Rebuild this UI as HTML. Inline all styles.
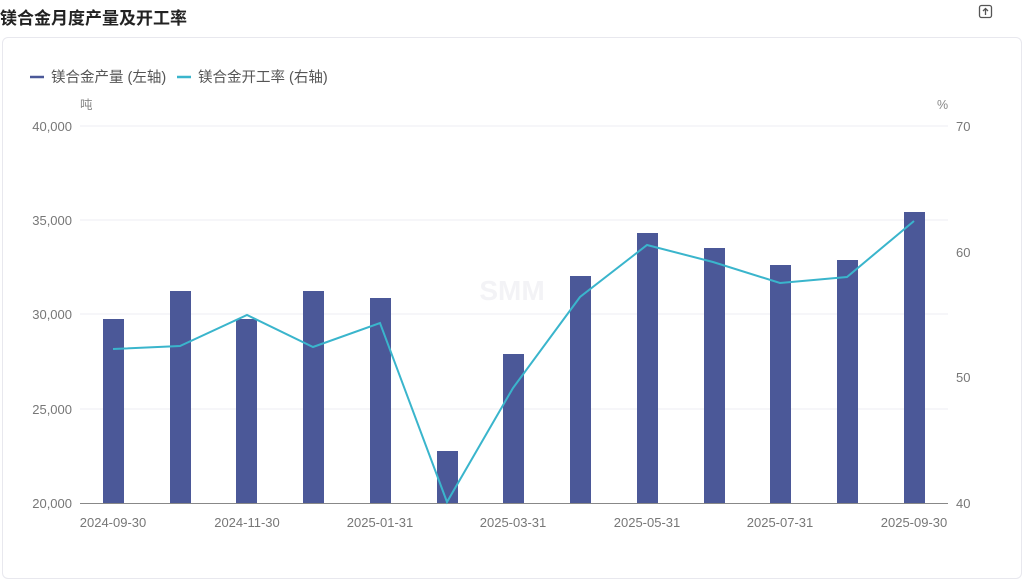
<!DOCTYPE html>
<html><head><meta charset="utf-8"><style>
body{margin:0;width:1024px;height:568px;background:#fff;font-family:"Liberation Sans","Noto Sans CJK SC",sans-serif;overflow:hidden;position:relative}
.t{position:absolute;left:0;top:4px;font-size:17px;font-weight:bold;color:#222}
.card{position:absolute;left:2px;top:37px;width:1018px;height:540px;border:1px solid #e8e8ee;border-radius:6px}
</style></head><body>
<div class="t">镁合金月度产量及开工率</div>
<svg style="position:absolute;left:978px;top:4px" width="16" height="16"><rect x="1.5" y="1.5" width="12" height="12" rx="2" fill="none" stroke="#555" stroke-width="1.3"/><path d="M7.5 11V4.5M5 7l2.5-2.5L10 7" stroke="#555" stroke-width="1.3" fill="none"/></svg>
<div class="card"></div>
<svg style="position:absolute;left:0;top:0" width="1024" height="568" font-family="Liberation Sans, Noto Sans CJK SC, sans-serif">
<line x1="30" y1="77" x2="44" y2="77" stroke="#4b5898" stroke-width="2.5"/>
<text x="51" y="82" font-size="14.5" fill="#555">镁合金产量 (左轴)</text>
<line x1="177" y1="77" x2="191" y2="77" stroke="#3ab5cc" stroke-width="2.5"/>
<text x="198" y="82" font-size="14.5" fill="#555">镁合金开工率 (右轴)</text>
<text x="80" y="109" font-size="12.5" fill="#888">吨</text>
<text x="937" y="109" font-size="12.5" fill="#888">%</text>
<g stroke="#ececf3" stroke-width="1">
<line x1="80" y1="126" x2="948" y2="126"/><line x1="80" y1="220" x2="948" y2="220"/><line x1="80" y1="314" x2="948" y2="314"/><line x1="80" y1="409" x2="948" y2="409"/>
</g>
<g font-size="13" fill="#777" text-anchor="end">
<text x="72" y="131">40,000</text><text x="72" y="225">35,000</text><text x="72" y="319">30,000</text><text x="72" y="414">25,000</text><text x="72" y="508">20,000</text>
</g>
<g font-size="13" fill="#777">
<text x="956" y="131">70</text><text x="956" y="257">60</text><text x="956" y="382">50</text><text x="956" y="508">40</text>
</g>
<text x="512" y="300" font-size="28" font-weight="bold" fill="#f3f3f6" text-anchor="middle">SMM</text>
<g fill="#4b5898">
<rect x="103" y="319" width="21" height="184"/>
<rect x="170" y="291" width="21" height="212"/>
<rect x="236" y="319" width="21" height="184"/>
<rect x="303" y="291" width="21" height="212"/>
<rect x="370" y="298" width="21" height="205"/>
<rect x="437" y="451" width="21" height="52"/>
<rect x="503" y="354" width="21" height="149"/>
<rect x="570" y="276" width="21" height="227"/>
<rect x="637" y="233" width="21" height="270"/>
<rect x="704" y="248" width="21" height="255"/>
<rect x="770" y="265" width="21" height="238"/>
<rect x="837" y="260" width="21" height="243"/>
<rect x="904" y="212" width="21" height="291"/>
</g>
<line x1="80" y1="503.5" x2="948" y2="503.5" stroke="#888" stroke-width="1"/>
<polyline fill="none" stroke="#3ab5cc" stroke-width="2" points="113,349 180,346 247,315 313,347 380,323 447,502 513,388 580,297 647,245 713,262 780,283 847,277 914,221"/>
<g font-size="13" fill="#777" text-anchor="middle">
<text x="113" y="527">2024-09-30</text><text x="247" y="527">2024-11-30</text><text x="380" y="527">2025-01-31</text><text x="513" y="527">2025-03-31</text><text x="647" y="527">2025-05-31</text><text x="780" y="527">2025-07-31</text><text x="914" y="527">2025-09-30</text>
</g>
</svg>
</body></html>
